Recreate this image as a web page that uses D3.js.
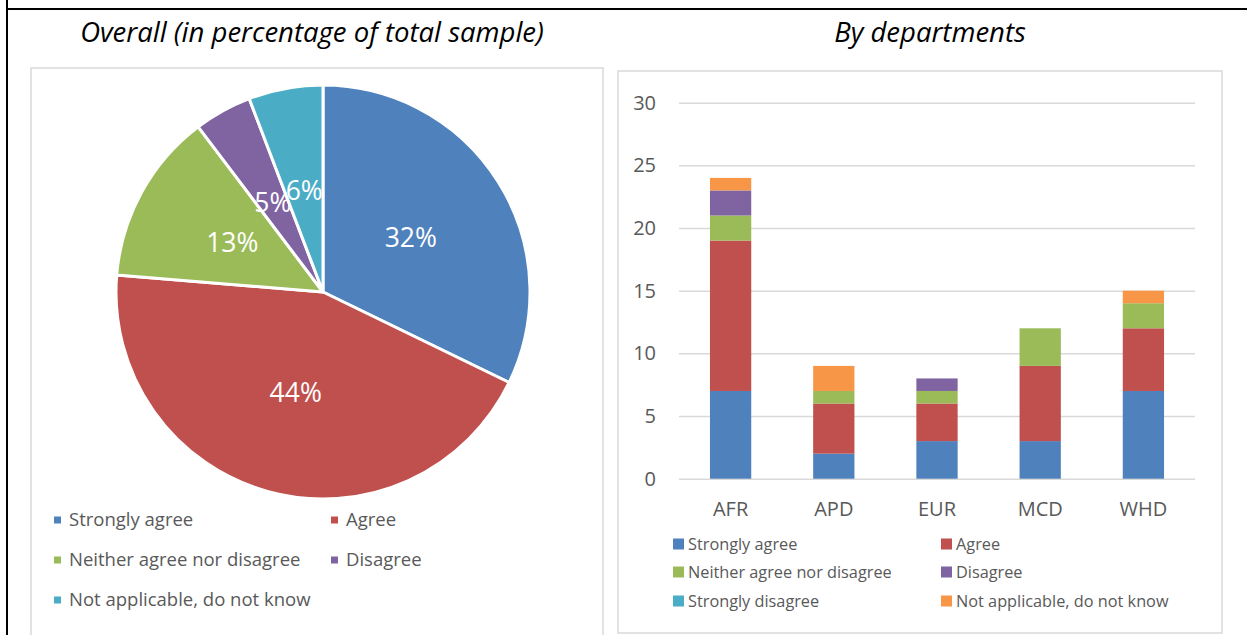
<!DOCTYPE html>
<html>
<head>
<meta charset="utf-8">
<script src="https://cdn.jsdelivr.net/npm/d3@7"></script>
<style>
  body { margin: 0; background: #fff; }
  text { font-family: "Open Sans", Lato, sans-serif; }
</style>
</head>
<body>
<svg id="chart" width="1247" height="635"></svg>
<script>
// Pie: overall shares (in % of total sample)
var pieCategories = ["Strongly agree", "Agree", "Neither agree nor disagree", "Disagree", "Not applicable, do not know"];
var pieValues = [32.2, 44.1, 13.4, 4.5, 5.8];
var pieColors = ["#4f81bd", "#c0504d", "#9bbb59", "#8064a2", "#4bacc6"];

// Stacked bars: counts by department
var departments = ["AFR", "APD", "EUR", "MCD", "WHD"];
var barSeries = ["Strongly agree", "Agree", "Neither agree nor disagree", "Disagree", "Strongly disagree", "Not applicable, do not know"];
var barColors = ["#4f81bd", "#c0504d", "#9bbb59", "#8064a2", "#4bacc6", "#f79646"];
var stronglyAgree    = [7, 2, 3, 3, 7];
var agree            = [12, 4, 3, 6, 5];
var neither          = [2, 1, 1, 3, 2];
var disagree         = [2, 0, 1, 0, 0];
var stronglyDisagree = [0, 0, 0, 0, 0];
var notApplicable    = [1, 2, 0, 0, 1];
var yTicks = [0, 5, 10, 15, 20, 25, 30];

var svg = d3.select("#chart");
var textGrey = "#595959";

// outer frame (top rule + left rule)
svg.append("line").attr("x1", 7).attr("x2", 1247).attr("y1", 9).attr("y2", 9)
  .attr("stroke", "#000").attr("stroke-width", 2);
svg.append("line").attr("x1", 7).attr("x2", 7).attr("y1", 0).attr("y2", 635)
  .attr("stroke", "#000").attr("stroke-width", 2);

// titles
svg.append("text").attr("x", 312).attr("y", 42).attr("text-anchor", "middle")
  .style("font-style", "italic").style("font-size", "27.5px").attr("fill", "#000")
  .text("Overall (in percentage of total sample)");
svg.append("text").attr("x", 930).attr("y", 42).attr("text-anchor", "middle")
  .style("font-style", "italic").style("font-size", "27.5px").attr("fill", "#000")
  .text("By departments");

// chart area boxes
svg.append("rect").attr("x", 31).attr("y", 68).attr("width", 572).attr("height", 600)
  .attr("fill", "none").attr("stroke", "#d9d9d9").attr("stroke-width", 1.5);
svg.append("rect").attr("x", 618).attr("y", 71).attr("width", 604).attr("height", 562)
  .attr("fill", "none").attr("stroke", "#d9d9d9").attr("stroke-width", 1.5);

// ---- Pie ----
var radius = 207;
var pieG = svg.append("g").attr("transform", "translate(323,292)");
var pie = d3.pie().sort(null).value(function(d) { return d; });
var arc = d3.arc().innerRadius(0).outerRadius(radius);
var arcs = pie(pieValues);

pieG.selectAll("path.slice")
  .data(arcs)
  .enter().append("path")
  .attr("class", "slice")
  .attr("d", arc)
  .attr("fill", function(d, i) { return pieColors[i]; })
  .attr("stroke", "#fff")
  .attr("stroke-width", 3)
  .attr("stroke-linejoin", "round");

pieG.selectAll("text.label")
  .data(arcs)
  .enter().append("text")
  .attr("class", "label")
  .attr("transform", function(d) { return "translate(" + arc.centroid(d) + ")"; })
  .attr("text-anchor", "middle")
  .attr("dy", "0.38em")
  .style("font-size", "26.5px")
  .attr("fill", "#fff")
  .text(function(d) { return Math.round(d.value) + "%"; });

// pie legend
var pieLegendPos = [[54, 520], [331, 520], [54, 560], [331, 560], [54, 600]];
var pieLegend = svg.append("g").selectAll("g")
  .data(pieCategories)
  .enter().append("g")
  .attr("transform", function(d, i) { return "translate(" + pieLegendPos[i][0] + "," + pieLegendPos[i][1] + ")"; });
pieLegend.append("rect").attr("x", 0).attr("y", -3.5).attr("width", 7).attr("height", 7)
  .attr("fill", function(d, i) { return pieColors[i]; });
pieLegend.append("text").attr("x", 15).attr("dy", "0.35em")
  .style("font-size", "18.5px").attr("fill", textGrey)
  .text(function(d) { return d; });

// ---- Stacked bars ----
var rows = departments.map(function(dep, i) {
  return {
    dep: dep,
    "Strongly agree": stronglyAgree[i],
    "Agree": agree[i],
    "Neither agree nor disagree": neither[i],
    "Disagree": disagree[i],
    "Strongly disagree": stronglyDisagree[i],
    "Not applicable, do not know": notApplicable[i]
  };
});

var x = d3.scaleBand()
  .domain(departments)
  .range([679, 1195])
  .paddingInner(0.6)
  .paddingOuter(0.3);
var y = d3.scaleLinear()
  .domain([0, 30])
  .range([478.7, 102.7]);

var yAxis = svg.append("g")
  .attr("transform", "translate(679,0)")
  .call(d3.axisLeft(y).tickValues(yTicks).tickSize(-516).tickPadding(23));
yAxis.select(".domain").remove();
yAxis.selectAll(".tick line").attr("stroke", "#d9d9d9").attr("stroke-width", 1.5);
yAxis.selectAll(".tick text").attr("fill", textGrey).style("font-size", "20px")
  .style("font-family", "'Open Sans', Lato, sans-serif");

var stack = d3.stack().keys(barSeries);
var layers = stack(rows);

svg.append("g").selectAll("g")
  .data(layers)
  .enter().append("g")
  .attr("fill", function(d, i) { return barColors[i]; })
  .selectAll("rect")
  .data(function(d) { return d; })
  .enter().append("rect")
  .attr("x", function(d) { return x(d.data.dep); })
  .attr("width", x.bandwidth())
  .attr("y", function(d) { return y(d[1]); })
  .attr("height", function(d) { return y(d[0]) - y(d[1]); });

var xAxis = svg.append("g")
  .attr("transform", "translate(0,479)")
  .call(d3.axisBottom(x).tickSize(0).tickPadding(23));
xAxis.select(".domain").remove();
xAxis.selectAll(".tick text").attr("fill", textGrey).style("font-size", "20px")
  .style("font-family", "'Open Sans', Lato, sans-serif");

// bar legend
var barLegendPos = [[673, 544], [941, 544], [673, 572], [941, 572], [673, 601], [941, 601]];
var barLegend = svg.append("g").selectAll("g")
  .data(barSeries)
  .enter().append("g")
  .attr("transform", function(d, i) { return "translate(" + barLegendPos[i][0] + "," + barLegendPos[i][1] + ")"; });
barLegend.append("rect").attr("x", 0).attr("y", -5.5).attr("width", 11).attr("height", 11)
  .attr("fill", function(d, i) { return barColors[i]; });
barLegend.append("text").attr("x", 15).attr("dy", "0.35em")
  .style("font-size", "16.3px").attr("fill", textGrey)
  .text(function(d) { return d; });
</script>
</body>
</html>
